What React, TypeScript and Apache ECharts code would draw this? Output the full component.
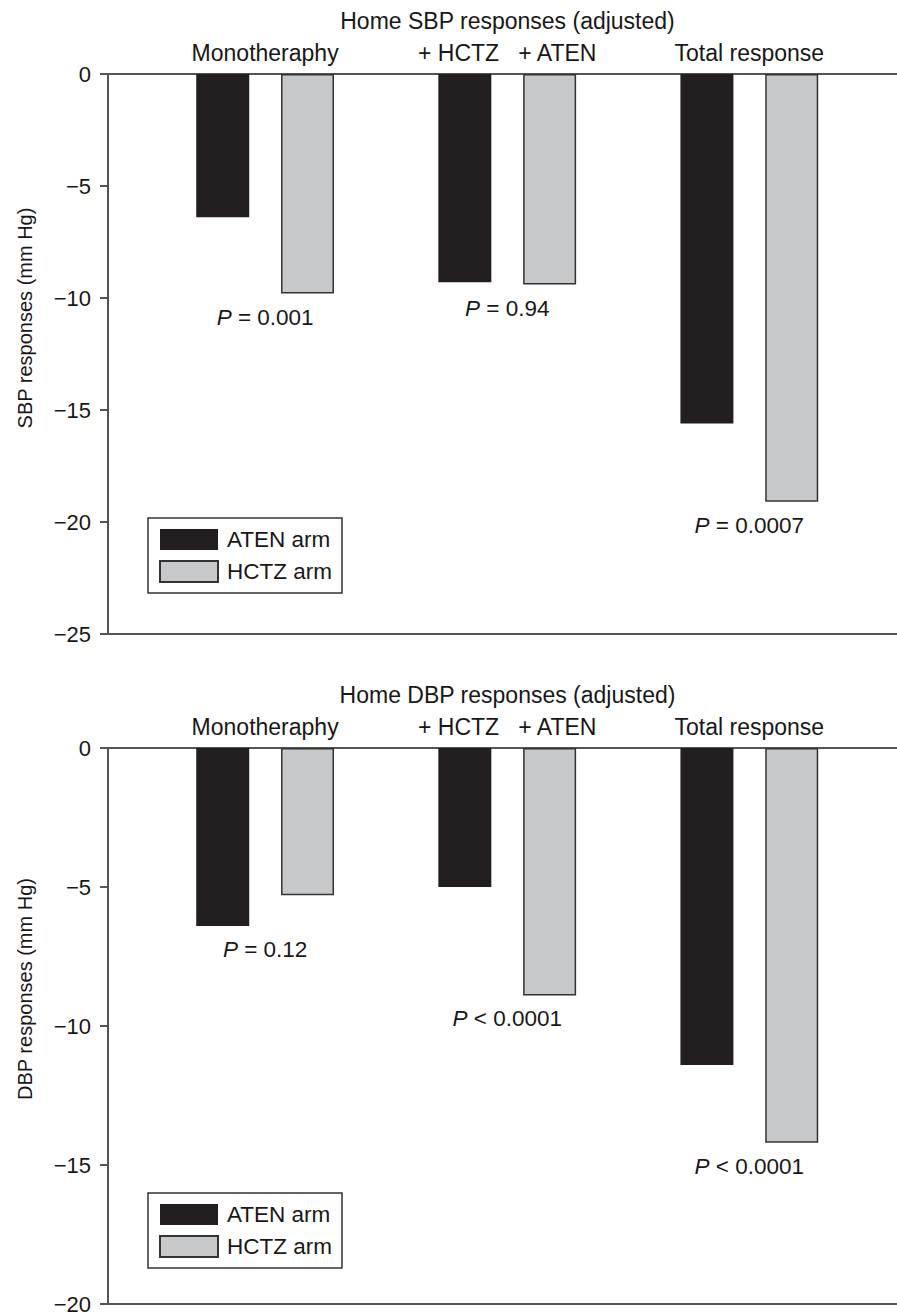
import React, { useEffect, useRef } from "react";
import * as echarts from "echarts";

// ---- data ----
const groupLabels = ["Monotheraphy", "+ HCTZ   + ATEN", "Total response"];
const groupPos = [1, 2, 3];
const seriesNames = ["ATEN arm", "HCTZ arm"];

const sbpTitle = "Home SBP responses (adjusted)";
const sbpAxisName = "SBP responses (mm Hg)";
const sbpAten = [-6.4, -9.3, -15.6];
const sbpHctz = [-9.8, -9.4, -19.1];
const sbpP = ["= 0.001", "= 0.94", "= 0.0007"];
const sbpMin = -25;

const dbpTitle = "Home DBP responses (adjusted)";
const dbpAxisName = "DBP responses (mm Hg)";
const dbpAten = [-6.4, -5.0, -11.4];
const dbpHctz = [-5.3, -8.9, -14.2];
const dbpP = ["= 0.12", "< 0.0001", "< 0.0001"];
const dbpMin = -20;

const tickInterval = 5;

// ---- style ----
const FONT = '"Liberation Sans", Arial, Helvetica, sans-serif';
const TEXT = "#1a1718";
const LINE = "#555555";
const BLACK = "#231f20";
const GRAY = "#c7c8ca";
const X_MIN = 0.351;
const X_MAX = 3.61;

const panels = [
  { title: sbpTitle, name: sbpAxisName, aten: sbpAten, hctz: sbpHctz, p: sbpP, min: sbpMin,
    top: 74, height: 560, legendTop: 518, nameY: 318 },
  { title: dbpTitle, name: dbpAxisName, aten: dbpAten, hctz: dbpHctz, p: dbpP, min: dbpMin,
    top: 748, height: 559, legendTop: 1193, nameY: 989 },
];

const fmtTick = (v: number) => (v < 0 ? "\u2212" + Math.abs(v) : String(v));

export default function App() {
  const ref = useRef<HTMLDivElement>(null);
  useEffect(() => {
    document.body.style.margin = "0";
    if (!ref.current) return;
    const chart = echarts.init(ref.current, null, { renderer: "svg" });

    const grid: any[] = [];
    const xAxis: any[] = [];
    const yAxis: any[] = [];
    const series: any[] = [];
    const legend: any[] = [];
    const graphic: any[] = [];

    panels.forEach((pn, g) => {
      grid.push({ left: 108, right: 0, top: pn.top, height: pn.height, containLabel: false });
      xAxis.push({
        type: "value",
        gridIndex: g,
        position: "top",
        min: X_MIN,
        max: X_MAX,
        axisLine: { show: true, onZero: false, lineStyle: { color: LINE, width: 2 } },
        axisTick: { show: false },
        splitLine: { show: false },
        axisLabel: {
          customValues: groupPos,
          formatter: (v: number) => groupLabels[Math.round(v) - 1] ?? "",
          margin: 10,
          fontSize: 23,
          fontFamily: FONT,
          color: TEXT,
        },
        name: pn.title,
        nameLocation: "middle",
        nameGap: 42,
        nameTextStyle: { fontSize: 23, fontFamily: FONT, color: TEXT, padding: [0, 0, 0, 10] },
      });
      xAxis.push({
        type: "value",
        gridIndex: g,
        position: "bottom",
        min: X_MIN,
        max: X_MAX,
        axisLine: { show: true, onZero: false, lineStyle: { color: LINE, width: 2 } },
        axisTick: { show: false },
        axisLabel: { show: false },
        splitLine: { show: false },
      });
      yAxis.push({
        type: "value",
        gridIndex: g,
        min: pn.min,
        max: 0,
        interval: tickInterval,
        axisLine: { show: true, onZero: false, lineStyle: { color: LINE, width: 2 } },
        axisTick: { show: true, length: 8, lineStyle: { color: LINE, width: 2 } },
        splitLine: { show: false },
        axisLabel: { formatter: fmtTick, margin: 17, fontSize: 22, fontFamily: FONT, color: TEXT },
      });
      series.push({
        type: "bar",
        name: seriesNames[0],
        xAxisIndex: 2 * g,
        yAxisIndex: g,
        data: groupPos.map((x, i) => [x, pn.aten[i]]),
        barWidth: 53,
        barGap: "60%",
        itemStyle: { color: BLACK },
      });
      series.push({
        type: "bar",
        name: seriesNames[1],
        xAxisIndex: 2 * g,
        yAxisIndex: g,
        data: groupPos.map((x, i) => [x, pn.hctz[i]]),
        barWidth: 53,
        barGap: "60%",
        itemStyle: { color: GRAY, borderColor: "#333333", borderWidth: 1.5 },
      });
      series.push({
        type: "scatter",
        name: "P" + g,
        xAxisIndex: 2 * g,
        yAxisIndex: g,
        silent: true,
        symbolSize: 0,
        itemStyle: { color: TEXT, opacity: 1 },
        data: groupPos.map((x, i) => [x, Math.min(pn.aten[i], pn.hctz[i])]),
        label: {
          show: true,
          position: "bottom",
          distance: 12,
          opacity: 1,
          formatter: (p: any) => "{i|P}{t| " + pn.p[p.dataIndex] + "}",
          fontSize: 22.5,
          fontFamily: FONT,
          color: TEXT,
          rich: {
            i: { fontStyle: "italic", fontSize: 22.5, fontFamily: FONT, color: TEXT },
            t: { fontSize: 22.5, fontFamily: FONT, color: TEXT },
          },
        },
        z: 10,
      });
      legend.push({
        data: seriesNames,
        orient: "vertical",
        left: 148,
        top: pn.legendTop,
        itemWidth: 58,
        itemHeight: 21,
        itemGap: 9,
        padding: [10, 10, 10, 11],
        borderColor: "#333333",
        borderWidth: 1.5,
        icon: "rect",
        selectedMode: false,
        textStyle: { fontSize: 22.5, fontFamily: FONT, color: TEXT, padding: [0, 0, 0, 4] },
      });
      graphic.push({
        type: "text",
        x: 25,
        y: pn.nameY,
        rotation: Math.PI / 2,
        style: {
          text: pn.name,
          font: '20px "Liberation Sans", Arial, sans-serif',
          fontSize: 20,
          fontFamily: FONT,
          fill: TEXT,
          textAlign: "center",
          textVerticalAlign: "middle",
          align: "center",
          verticalAlign: "middle",
        },
      });
    });

    chart.setOption({
      animation: false,
      backgroundColor: "#ffffff",
      textStyle: { fontFamily: FONT },
      grid,
      xAxis,
      yAxis,
      series,
      legend,
      graphic,
    });
    return () => chart.dispose();
  }, []);
  return <div ref={ref} style={{ width: 897, height: 1315 }} />;
}
